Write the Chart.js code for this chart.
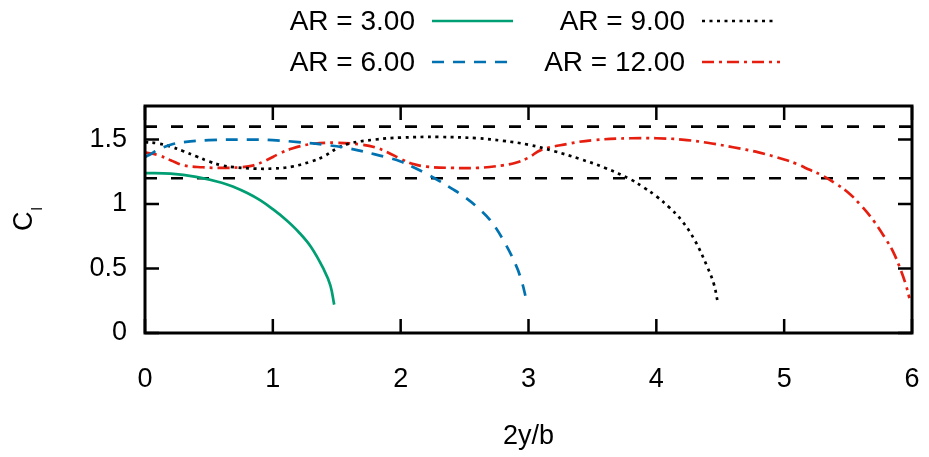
<!DOCTYPE html>
<html>
<head>
<meta charset="utf-8">
<script src="https://cdn.jsdelivr.net/npm/chart.js@4"></script>
<style>
  html, body { margin: 0; padding: 0; background: #fff; }
  #wrap { width: 929px; height: 457px; }
</style>
</head>
<body>
<div id="wrap"><canvas id="chart" width="929" height="457"></canvas></div>
<script>
// spanwise station 2y/b and section lift coefficient Cl
const ar3X  = [0, 0.2, 0.4, 0.6, 0.7, 0.8, 0.9, 1.0, 1.1, 1.2, 1.3, 1.4, 1.45, 1.48];
const ar3Cl = [1.24, 1.235, 1.21, 1.165, 1.13, 1.085, 1.03, 0.96, 0.88, 0.785, 0.665, 0.49, 0.37, 0.22];

const ar6X  = [0, 0.05, 0.1, 0.2, 0.3, 0.5, 0.8, 1.0, 1.2, 1.4, 1.6, 1.8, 1.9, 2.0, 2.1, 2.2, 2.3, 2.4, 2.5, 2.6, 2.7, 2.8, 2.9, 2.95, 2.98];
const ar6Cl = [1.365, 1.39, 1.42, 1.46, 1.48, 1.495, 1.50, 1.495, 1.48, 1.46, 1.43, 1.385, 1.36, 1.33, 1.285, 1.235, 1.18, 1.12, 1.055, 0.975, 0.875, 0.725, 0.53, 0.39, 0.27];

const ar9X  = [0, 0.1, 0.2, 0.3, 0.4, 0.5, 0.6, 0.7, 0.85, 1.0, 1.15, 1.3, 1.4, 1.5, 1.6, 1.8, 2.0, 2.3, 2.6, 2.8, 3.0, 3.2, 3.4, 3.6, 3.8, 3.9, 4.0, 4.1, 4.2, 4.3, 4.4, 4.45, 4.48];
const ar9Cl = [1.48, 1.47, 1.445, 1.41, 1.37, 1.33, 1.30, 1.285, 1.275, 1.275, 1.29, 1.33, 1.37, 1.43, 1.47, 1.50, 1.515, 1.52, 1.51, 1.49, 1.46, 1.41, 1.35, 1.28, 1.19, 1.13, 1.06, 0.975, 0.87, 0.72, 0.51, 0.38, 0.24];

const ar12X  = [0, 0.1, 0.2, 0.3, 0.45, 0.6, 0.75, 0.85, 0.95, 1.05, 1.15, 1.3, 1.5, 1.7, 1.8, 1.9, 2.0, 2.1, 2.2, 2.4, 2.6, 2.8, 2.9, 3.0, 3.1, 3.3, 3.5, 3.8, 4.0, 4.2, 4.4, 4.6, 4.8, 5.0, 5.1, 5.2, 5.3, 5.4, 5.5, 5.6, 5.7, 5.8, 5.85, 5.9, 5.95, 5.98];
const ar12Cl = [1.40, 1.38, 1.34, 1.30, 1.285, 1.28, 1.285, 1.30, 1.34, 1.39, 1.43, 1.465, 1.475, 1.46, 1.44, 1.40, 1.35, 1.31, 1.29, 1.28, 1.28, 1.30, 1.32, 1.36, 1.42, 1.465, 1.495, 1.51, 1.51, 1.50, 1.475, 1.44, 1.40, 1.345, 1.31, 1.265, 1.22, 1.16, 1.09, 0.99, 0.87, 0.72, 0.635, 0.52, 0.38, 0.27];

// horizontal reference levels and their x extent
const refLevels = [1.2, 1.6];
const refX = [0, 6];

const labels = ['AR = 3.00', 'AR = 6.00', 'AR = 9.00', 'AR = 12.00'];
const xTicks = [0, 1, 2, 3, 4, 5, 6];
const yTicks = [0, 0.5, 1, 1.5];

const FONT = '"Liberation Sans", Arial, sans-serif';

function pts(xs, ys) {
  return xs.map((x, i) => ({x: x, y: ys[i]}));
}

function curve(label, xs, ys, color, dash) {
  return {
    label: label,
    data: pts(xs, ys),
    borderColor: color,
    borderWidth: 2.7,
    borderDash: dash,
    pointRadius: 0,
    tension: 0.4,
    fill: false
  };
}

const datasets = [
  curve(labels[0], ar3X, ar3Cl, '#009e73', []),
  curve(labels[1], ar6X, ar6Cl, '#0072b2', [12, 9]),
  curve(labels[2], ar9X, ar9Cl, '#000000', [3, 4.5]),
  curve(labels[3], ar12X, ar12Cl, '#e51e10', [12, 5, 3, 5])
];
refLevels.forEach(v => {
  datasets.push({
    label: 'ref',
    data: refX.map(x => ({x: x, y: v})),
    borderColor: '#000',
    borderWidth: 2.7,
    borderDash: [12, 14],
    pointRadius: 0,
    fill: false
  });
});

// gnuplot-like frame, inward ticks, y title with subscript and a two-column key
const gnuFrame = {
  id: 'gnuFrame',
  afterDraw(chart) {
    const {ctx, chartArea: a, scales} = chart;
    const xs = scales.x, ys = scales.y;
    const tl = 14;
    ctx.save();
    ctx.strokeStyle = '#000';
    ctx.lineWidth = 2.5;
    ctx.setLineDash([]);
    ctx.beginPath();
    xs.ticks.forEach(t => {
      const px = xs.getPixelForValue(t.value);
      ctx.moveTo(px, a.bottom); ctx.lineTo(px, a.bottom - tl);
      ctx.moveTo(px, a.top); ctx.lineTo(px, a.top + tl);
    });
    ys.ticks.forEach(t => {
      const py = ys.getPixelForValue(t.value);
      ctx.moveTo(a.left, py); ctx.lineTo(a.left + tl, py);
      ctx.moveTo(a.right, py); ctx.lineTo(a.right - tl, py);
    });
    ctx.stroke();
    ctx.lineWidth = 3;
    ctx.strokeRect(a.left, a.top, a.right - a.left, a.bottom - a.top);

    // y title: C with subscript l
    ctx.fillStyle = '#000';
    ctx.translate(32, 231);
    ctx.rotate(-Math.PI / 2);
    ctx.textBaseline = 'alphabetic';
    ctx.textAlign = 'left';
    ctx.font = '27px ' + FONT;
    ctx.fillText('C', 0, 0);
    const cw = ctx.measureText('C').width;
    ctx.font = '15px ' + FONT;
    ctx.fillText('l', cw + 1, 10);
    ctx.setTransform(1, 0, 0, 1, 0, 0);

    // key
    const slots = [
      {i: 0, tx: 415, s0: 432, s1: 513, y: 21},
      {i: 1, tx: 415, s0: 432, s1: 513, y: 62},
      {i: 2, tx: 685, s0: 702, s1: 777, y: 21},
      {i: 3, tx: 685, s0: 702, s1: 780, y: 62}
    ];
    ctx.font = '28px ' + FONT;
    ctx.textAlign = 'right';
    ctx.textBaseline = 'middle';
    slots.forEach(s => {
      const ds = chart.data.datasets[s.i];
      ctx.fillStyle = '#000';
      ctx.fillText(ds.label, s.tx, s.y + 1);
      ctx.strokeStyle = ds.borderColor;
      ctx.lineWidth = ds.borderWidth;
      ctx.setLineDash(ds.borderDash);
      ctx.beginPath();
      ctx.moveTo(s.s0, s.y);
      ctx.lineTo(s.s1, s.y);
      ctx.stroke();
    });
    ctx.restore();
  }
};

new Chart(document.getElementById('chart').getContext('2d'), {
  type: 'line',
  data: {datasets: datasets},
  options: {
    responsive: false,
    animation: false,
    layout: {padding: {top: 106, right: 17, left: 0, bottom: 0}},
    plugins: {
      legend: {display: false},
      tooltip: {enabled: false}
    },
    scales: {
      x: {
        type: 'linear',
        min: 0,
        max: 6,
        afterBuildTicks: s => { s.ticks = xTicks.map(v => ({value: v})); },
        afterFit: s => { s.height = 124; s.paddingLeft = 0; s.paddingRight = 0; },
        grid: {display: false, drawTicks: false},
        border: {display: false},
        ticks: {
          padding: 30,
          color: '#000',
          font: {family: FONT, size: 27},
          callback: v => String(v)
        },
        title: {
          display: true,
          text: '2y/b',
          color: '#000',
          font: {family: FONT, size: 27},
          padding: {top: 0, bottom: 4}
        }
      },
      y: {
        type: 'linear',
        min: 0,
        max: 1.76,
        afterBuildTicks: s => { s.ticks = yTicks.map(v => ({value: v})); },
        afterFit: s => { s.width = 145; s.paddingTop = 0; s.paddingBottom = 0; },
        grid: {display: false, drawTicks: false},
        border: {display: false},
        ticks: {
          padding: 18,
          color: '#000',
          font: {family: FONT, size: 27},
          callback: v => String(v)
        }
      }
    }
  },
  plugins: [gnuFrame]
});
</script>
</body>
</html>
